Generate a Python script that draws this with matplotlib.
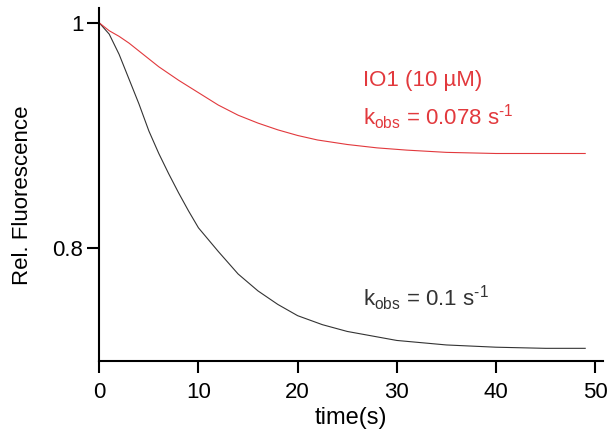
import matplotlib.pyplot as plt

plt.rcParams['font.family'] = ['Liberation Sans', 'DejaVu Sans']
plt.rcParams['mathtext.default'] = 'regular'

# fluorescence traces (time in s, relative fluorescence)
t_ctrl = [0, 1, 2, 3, 4, 5, 6, 7, 8, 9, 10, 12, 14, 16, 18, 20, 22.5, 25, 30, 35, 40, 45, 49]
f_ctrl = [1.000, 0.990, 0.972, 0.950, 0.928, 0.904, 0.884, 0.866, 0.849, 0.833, 0.818,
          0.797, 0.777, 0.762, 0.750, 0.740, 0.732, 0.726, 0.718, 0.714, 0.712, 0.711, 0.711]

t_io1 = [0, 1, 2, 3, 4, 5, 6, 7, 8, 10, 12, 14, 16, 18, 20, 22, 25, 28, 31, 35, 40, 45, 49]
f_io1 = [1.000, 0.993, 0.988, 0.982, 0.975, 0.968, 0.961, 0.955, 0.949, 0.938, 0.927,
         0.918, 0.911, 0.905, 0.900, 0.896, 0.892, 0.889, 0.887, 0.885, 0.884, 0.884, 0.884]

red = '#e2393d'
grey = '#333333'

fig = plt.figure(figsize=(6.11, 4.32), dpi=100)
ax = fig.add_axes([0.1625, 0.165, 0.8245, 0.816])

ax.plot(t_ctrl, f_ctrl, color=grey, lw=0.8)
ax.plot(t_io1, f_io1, color=red, lw=0.8)

ax.set_xlim(0, 50.8)
ax.set_ylim(0.70, 1.013)
ax.set_xticks([0, 10, 20, 30, 40, 50])
ax.set_yticks([0.8, 1.0])
ax.set_yticklabels(['0.8', '1'])

for s in ['top', 'right']:
    ax.spines[s].set_visible(False)
for s in ['left', 'bottom']:
    ax.spines[s].set_linewidth(1.5)
ax.tick_params(direction='out', length=8.5, width=1.5, labelsize=16)
ax.tick_params(axis='x', pad=6.5)
ax.tick_params(axis='y', pad=3)

ax.set_xlabel('time(s)', fontsize=17, labelpad=3)
fig.text(23 / 611, 1 - 195 / 432, 'Rel. Fluorescence', fontsize=16,
         rotation=90, ha='center', va='center')

# kinetics annotations, superscript written with a plain hyphen
ax.text(26.6, 0.9436, 'IO1 (10 µM)', color=red, fontsize=16, va='baseline')
ax.text(26.6, 0.9096, 'k$_{obs}$ = 0.078 s$^{\u20101}$', color=red, fontsize=16, va='baseline')
ax.text(26.6, 0.7487, 'k$_{obs}$ = 0.1 s$^{\u20101}$', color=grey, fontsize=16, va='baseline')

plt.savefig('out.png')
